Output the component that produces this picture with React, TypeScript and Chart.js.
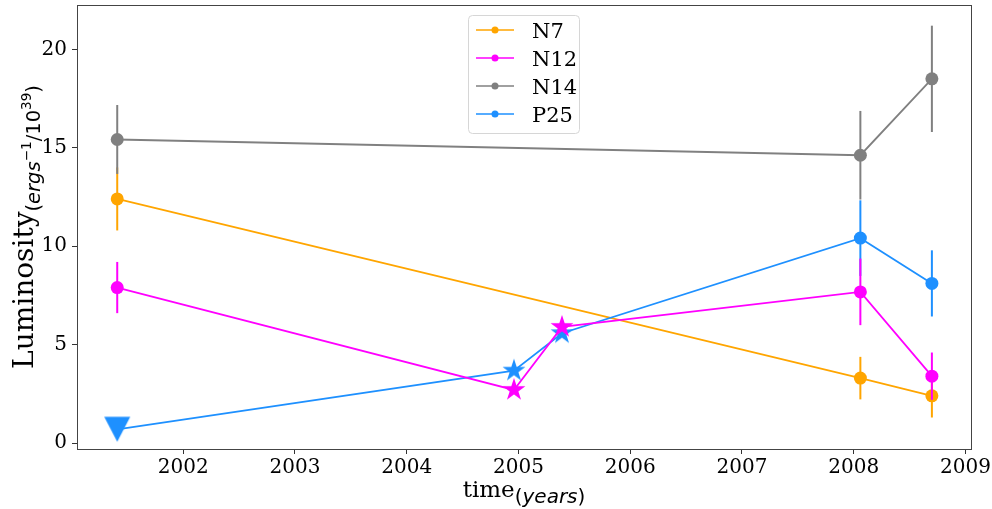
import React, { useEffect, useRef } from 'react';
import { Chart, registerables } from 'chart.js';

Chart.register(...registerables);

// ---------------- data ----------------
const seriesNames = ['N7', 'N12', 'N14', 'P25'];
const seriesColors = ['#FFA500', '#FF00FF', '#808080', '#1E90FF'];

const n7X = [2001.41, 2008.06, 2008.7];
const n7Y = [12.4, 3.3, 2.4];
const n7Err = [1.6, 1.08, 1.1];
const n7Marker = ['circle', 'circle', 'circle'];

const n12X = [2001.41, 2004.96, 2005.39, 2008.06, 2008.7];
const n12Y = [7.9, 2.7, 5.9, 7.68, 3.4];
const n12Err = [1.3, 0, 0, 1.69, 1.2];
const n12Marker = ['circle', 'star', 'star', 'circle', 'circle'];

const n14X = [2001.41, 2008.06, 2008.7];
const n14Y = [15.42, 14.62, 18.5];
const n14Err = [1.75, 2.25, 2.7];
const n14Marker = ['circle', 'circle', 'circle'];

const p25X = [2001.41, 2004.96, 2005.39, 2008.06, 2008.7];
const p25Y = [0.7, 3.68, 5.58, 10.41, 8.11];
const p25Err = [0, 0, 0, 1.92, 1.68];
const p25Marker = ['triangleDown', 'star', 'star', 'circle', 'circle'];

const xTicks = [2002, 2003, 2004, 2005, 2006, 2007, 2008, 2009];
const yTicks = [0, 5, 10, 15, 20];

const xAxisTitle = 'time';
const xAxisSub = 'years';
const yAxisTitle = 'Luminosity';

const allX = [n7X, n12X, n14X, p25X];
const allY = [n7Y, n12Y, n14Y, p25Y];
const allErr = [n7Err, n12Err, n14Err, p25Err];
const allMarker = [n7Marker, n12Marker, n14Marker, p25Marker];
// drawing order (higher = further back)
const drawOrder = [3, 1, 0, 2];

// ---------------- marker images ----------------
function makeStar(color: string, R: number) {
  const size = Math.ceil(R * 2 + 4);
  const c = document.createElement('canvas');
  c.width = size;
  c.height = size;
  const g = c.getContext('2d')!;
  const cx = size / 2;
  const cy = size / 2;
  const r = R * 0.381966;
  g.beginPath();
  for (let i = 0; i < 10; i++) {
    const rad = i % 2 === 0 ? R : r;
    const a = -Math.PI / 2 + (i * Math.PI) / 5;
    const px = cx + rad * Math.cos(a);
    const py = cy + rad * Math.sin(a);
    if (i === 0) g.moveTo(px, py);
    else g.lineTo(px, py);
  }
  g.closePath();
  g.fillStyle = color;
  g.fill();
  return c;
}

function makeTriangleDown(color: string, w: number, h: number) {
  const size = Math.ceil(Math.max(w, h) + 4);
  const c = document.createElement('canvas');
  c.width = size;
  c.height = size;
  const g = c.getContext('2d')!;
  const cx = size / 2;
  const cy = size / 2;
  g.beginPath();
  g.moveTo(cx - w / 2, cy - h / 2);
  g.lineTo(cx + w / 2, cy - h / 2);
  g.lineTo(cx, cy + h / 2);
  g.closePath();
  g.fillStyle = color;
  g.fill();
  return c;
}

// ---------------- text helpers ----------------
type Run = { text: string; font: string; dy: number };

function runsWidth(ctx: CanvasRenderingContext2D, runs: Run[]) {
  let w = 0;
  for (const r of runs) {
    ctx.font = r.font;
    w += ctx.measureText(r.text).width;
  }
  return w;
}

function drawRuns(ctx: CanvasRenderingContext2D, runs: Run[], x: number, y: number) {
  let cx = x;
  for (const r of runs) {
    ctx.font = r.font;
    ctx.fillText(r.text, cx, y + r.dy);
    cx += ctx.measureText(r.text).width;
  }
}

const SERIF = '"DejaVu Serif", serif';
const SANS = '"DejaVu Sans", sans-serif';

function zeroPad(s: any) {
  s.paddingTop = 0;
  s.paddingBottom = 0;
  s.paddingLeft = 0;
  s.paddingRight = 0;
}

export default function App() {
  const canvasRef = useRef<HTMLCanvasElement | null>(null);

  useEffect(() => {
    const canvas = canvasRef.current;
    if (!canvas) return;

    const styleImages = seriesColors.map((col) => ({
      star: makeStar(col, 12),
      triangleDown: makeTriangleDown(col, 26, 25),
    }));

    const datasets = seriesNames.map((name, i) => {
      const markers = allMarker[i];
      return {
        label: name,
        data: allX[i].map((x, j) => ({ x, y: allY[i][j] })),
        borderColor: seriesColors[i],
        backgroundColor: seriesColors[i],
        borderWidth: 1.8,
        showLine: true,
        tension: 0,
        order: drawOrder[i],
        clip: false as any,
        pointBackgroundColor: seriesColors[i],
        pointBorderWidth: 0,
        pointRadius: markers.map((m) => (m === 'circle' ? 6.5 : 12)),
        pointStyle: (c: any) => {
          const m = markers[c.dataIndex];
          if (m === 'star') return styleImages[i].star;
          if (m === 'triangleDown') return styleImages[i].triangleDown;
          return 'circle';
        },
      };
    });

    const errorBarPlugin = {
      id: 'errorBars',
      beforeDatasetDraw(chart: any, args: any) {
        const i = args.index;
        const ctx = chart.ctx as CanvasRenderingContext2D;
        const xs = chart.scales.x;
        const ys = chart.scales.y;
        ctx.save();
        ctx.strokeStyle = seriesColors[i];
        ctx.lineWidth = 2;
        allX[i].forEach((x, j) => {
          const e = allErr[i][j];
          if (!e) return;
          const px = xs.getPixelForValue(x);
          ctx.beginPath();
          ctx.moveTo(px, ys.getPixelForValue(allY[i][j] - e));
          ctx.lineTo(px, ys.getPixelForValue(allY[i][j] + e));
          ctx.stroke();
        });
        ctx.restore();
      },
    };

    const decorPlugin = {
      id: 'decor',
      afterDraw(chart: any) {
        const ctx = chart.ctx as CanvasRenderingContext2D;
        const a = chart.chartArea;
        ctx.save();
        // frame
        ctx.strokeStyle = '#444';
        ctx.lineWidth = 1;
        ctx.strokeRect(Math.round(a.left) + 0.5, Math.round(a.top) + 0.5, Math.round(a.right - a.left), Math.round(a.bottom - a.top));

        // legend
        const lx = 468.5, ly = 15.5, lw = 111, lh = 118;
        ctx.beginPath();
        const rr = 4;
        ctx.moveTo(lx + rr, ly);
        ctx.lineTo(lx + lw - rr, ly);
        ctx.quadraticCurveTo(lx + lw, ly, lx + lw, ly + rr);
        ctx.lineTo(lx + lw, ly + lh - rr);
        ctx.quadraticCurveTo(lx + lw, ly + lh, lx + lw - rr, ly + lh);
        ctx.lineTo(lx + rr, ly + lh);
        ctx.quadraticCurveTo(lx, ly + lh, lx, ly + lh - rr);
        ctx.lineTo(lx, ly + rr);
        ctx.quadraticCurveTo(lx, ly, lx + rr, ly);
        ctx.closePath();
        ctx.fillStyle = 'rgba(255,255,255,0.85)';
        ctx.fill();
        ctx.strokeStyle = '#d6d6d6';
        ctx.stroke();
        seriesNames.forEach((name, i) => {
          const ry = 30 + i * 28;
          ctx.strokeStyle = seriesColors[i];
          ctx.lineWidth = 1.5;
          ctx.beginPath();
          ctx.moveTo(476, ry);
          ctx.lineTo(514, ry);
          ctx.stroke();
          ctx.fillStyle = seriesColors[i];
          ctx.beginPath();
          ctx.arc(495, ry, 3.5, 0, Math.PI * 2);
          ctx.fill();
          ctx.fillStyle = '#000';
          ctx.font = `21px ${SERIF}`;
          ctx.textAlign = 'left';
          ctx.textBaseline = 'alphabetic';
          ctx.fillText(name, 532, ry + 7.7);
        });

        // axis titles
        ctx.fillStyle = '#000';
        ctx.textAlign = 'left';
        ctx.textBaseline = 'alphabetic';
        const xRuns: Run[] = [
          { text: xAxisTitle, font: `23px ${SERIF}`, dy: 0 },
          { text: '(', font: `20px ${SANS}`, dy: 6 },
          { text: xAxisSub, font: `italic 20px ${SANS}`, dy: 6 },
          { text: ')', font: `20px ${SANS}`, dy: 6 },
        ];
        const xw = runsWidth(ctx, xRuns);
        const xc = (a.left + a.right) / 2;
        drawRuns(ctx, xRuns, xc - xw / 2, 497);

        const yRuns: Run[] = [
          { text: yAxisTitle, font: `28px ${SERIF}`, dy: 0 },
          { text: '(', font: `19.5px ${SANS}`, dy: 6.5 },
          { text: 'ergs', font: `italic 19.5px ${SANS}`, dy: 6.5 },
          { text: '\u22121', font: `13.6px ${SANS}`, dy: -2 },
          { text: '/10', font: `19.5px ${SANS}`, dy: 6.5 },
          { text: '39', font: `13.6px ${SANS}`, dy: -2 },
          { text: ')', font: `19.5px ${SANS}`, dy: 6.5 },
        ];
        const yw = runsWidth(ctx, yRuns);
        const yc = (a.top + a.bottom) / 2;
        ctx.translate(33, yc);
        ctx.rotate(-Math.PI / 2);
        drawRuns(ctx, yRuns, -yw / 2, 0);
        ctx.restore();
      },
    };

    const chart = new Chart(canvas, {
      type: 'scatter',
      data: { datasets: datasets as any },
      options: {
        responsive: false,
        animation: false,
        devicePixelRatio: 1,
        layout: { autoPadding: false, padding: { left: 0, right: 21, top: 5, bottom: 0 } },
        plugins: {
          legend: { display: false },
          tooltip: { enabled: false },
        },
        scales: {
          x: {
            type: 'linear',
            min: 2001.05,
            max: 2009.05,
            afterBuildTicks: (s: any) => {
              s.ticks = xTicks.map((v) => ({ value: v }));
            },
            afterFit: (s: any) => {
              s.height = 60;
              zeroPad(s);
            },
            border: { display: false },
            grid: { drawOnChartArea: false, drawTicks: true, tickLength: 5, color: '#333', lineWidth: 1 },
            ticks: {
              color: '#000',
              font: { family: 'DejaVu Serif', size: 20 },
              padding: 2,
              maxRotation: 0,
              autoSkip: false,
              callback: (v: any) => String(v),
            },
          },
          y: {
            type: 'linear',
            min: -0.3,
            max: 22.25,
            afterBuildTicks: (s: any) => {
              s.ticks = yTicks.map((v) => ({ value: v }));
            },
            afterFit: (s: any) => {
              s.width = 77;
              zeroPad(s);
            },
            border: { display: false },
            grid: { drawOnChartArea: false, drawTicks: true, tickLength: 5, color: '#333', lineWidth: 1 },
            ticks: {
              color: '#000',
              font: { family: 'DejaVu Serif', size: 20 },
              padding: 5,
              autoSkip: false,
              callback: (v: any) => String(v),
            },
          },
        },
      },
      plugins: [errorBarPlugin, decorPlugin],
    });

    return () => {
      chart.destroy();
    };
  }, []);

  return (
    <div style={{ position: 'absolute', left: 0, top: 0, width: 992, height: 509, background: '#fff' }}>
      <canvas ref={canvasRef} width={992} height={509} style={{ display: 'block' }} />
    </div>
  );
}
